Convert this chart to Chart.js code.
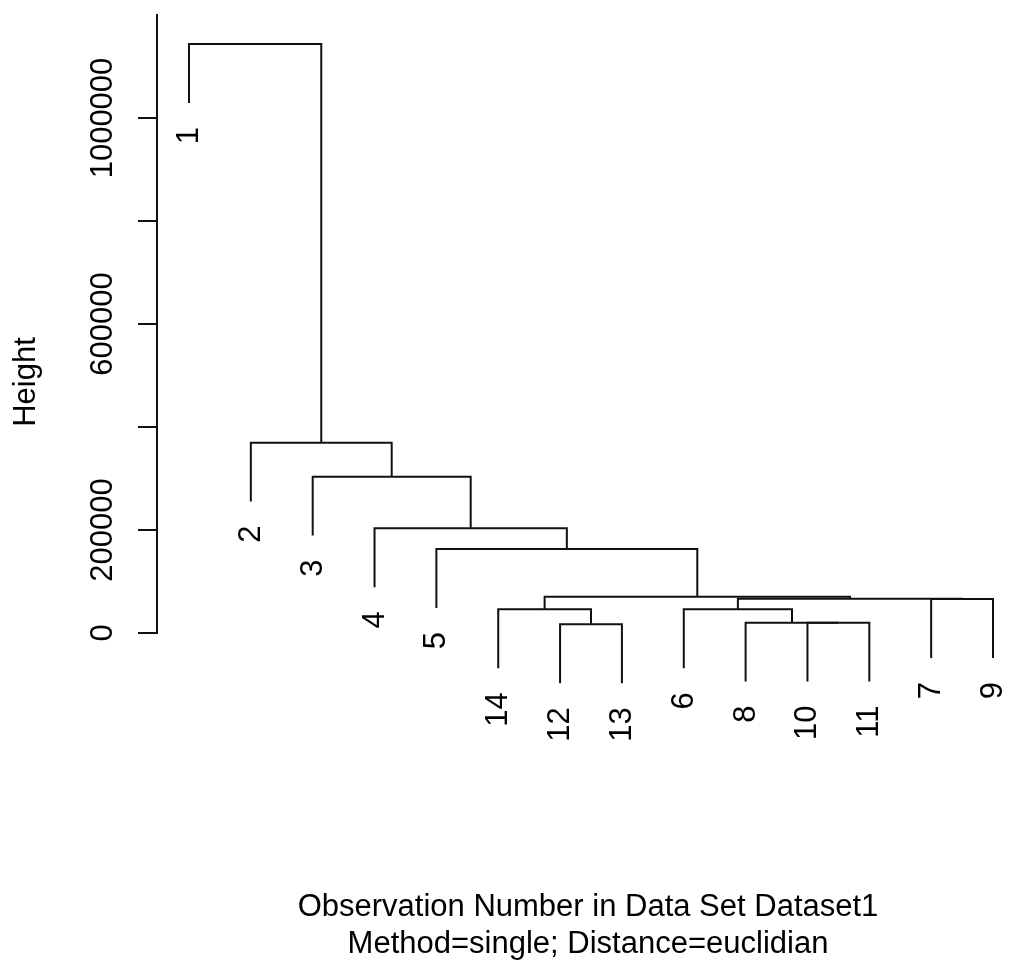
<!DOCTYPE html>
<html>
<head>
<meta charset="utf-8">
<script src="https://cdn.jsdelivr.net/npm/chart.js@4"></script>
<style>
  html, body { margin: 0; padding: 0; background: #fff; }
  #wrap { width: 1009px; height: 967px; position: relative; }
</style>
</head>
<body>
<div id="wrap"><canvas id="dendro"></canvas></div>
<script>
// leaves in the order they are drawn left to right (observation numbers)
const leafOrder = [1, 2, 3, 4, 5, 14, 12, 13, 6, 8, 10, 11, 7, 9];

// merge table, hclust style: negative = observation, positive = earlier merge (1-based)
const mergeLeft  = [-12, -10, -8, -14, -6, -7, 5, 4, -5, -4, -3, -2, -1];
const mergeRight = [-13, -11,  2,   1,  3, -9, 6, 7,  8,  9, 10, 11, 12];
const mergeHeight = [16900, 20000, 20000, 46000, 46000, 66000, 66400, 70500,
                     163000, 203300, 303500, 369500, 1143700];

const yTicks = [0, 200000, 400000, 600000, 800000, 1000000];
const yTickLabels = ['0', '200000', '', '600000', '', '1000000'];
const xTitle = ['Observation Number in Data Set Dataset1', 'Method=single; Distance=euclidian'];
const yTitle = 'Height';

const hang = 0.1 * Math.max(...mergeHeight);
const FONT = '31px "Liberation Sans", Arial, sans-serif';

// x of every merge = mean of its two children, leaf x = its slot
const nodeX = [];
const leafEnd = {};
function childX(c) { return c < 0 ? leafOrder.indexOf(-c) + 1 : nodeX[c - 1]; }
function childTop(c, h) {
  if (c < 0) {
    leafEnd[-c] = h - hang;
    return h - hang;
  }
  return mergeHeight[c - 1];
}

const datasets = mergeHeight.map(function (h, i) {
  const a = mergeLeft[i], b = mergeRight[i];
  const xa = childX(a), xb = childX(b);
  nodeX[i] = (xa + xb) / 2;
  return {
    data: [
      { x: xa, y: childTop(a, h) },
      { x: xa, y: h },
      { x: xb, y: h },
      { x: xb, y: childTop(b, h) }
    ],
    showLine: true,
    borderColor: '#111',
    borderWidth: 2,
    pointRadius: 0,
    tension: 0,
    clip: false
  };
});

// rotated labels + titles, R style
const textPlugin = {
  id: 'rText',
  afterDraw(chart) {
    const c = chart.ctx;
    const xs = chart.scales.x, ys = chart.scales.y;
    c.save();
    c.fillStyle = '#000';
    c.font = FONT;

    // leaf labels hanging under each leaf
    leafOrder.forEach(function (obs, i) {
      const px = xs.getPixelForValue(i + 1) + 9;
      const py = ys.getPixelForValue(leafEnd[obs]) + 24;
      c.save();
      c.translate(px, py);
      c.rotate(-Math.PI / 2);
      c.textAlign = 'right';
      c.textBaseline = 'alphabetic';
      c.fillText(String(obs), 0, 0);
      c.restore();
    });

    // y tick labels, parallel to the axis
    yTicks.forEach(function (v, i) {
      if (!yTickLabels[i]) return;
      c.save();
      c.translate(chart.chartArea.left - 45, ys.getPixelForValue(v));
      c.rotate(-Math.PI / 2);
      c.textAlign = 'center';
      c.textBaseline = 'alphabetic';
      c.fillText(yTickLabels[i], 0, 0);
      c.restore();
    });

    // y title
    c.save();
    c.translate(35, 382);
    c.rotate(-Math.PI / 2);
    c.textAlign = 'center';
    c.fillText(yTitle, 0, 0);
    c.restore();

    // x title, two lines
    c.textAlign = 'center';
    c.fillText(xTitle[0], 588, 916);
    c.fillText(xTitle[1], 588, 953);
    c.restore();
  }
};

new Chart(document.getElementById('dendro'), {
  type: 'scatter',
  data: { datasets: datasets },
  options: {
    responsive: true,
    maintainAspectRatio: false,
    animation: false,
    layout: { padding: { left: 138, top: 15, right: 4, bottom: 334 } },
    plugins: { legend: { display: false }, tooltip: { enabled: false } },
    scales: {
      x: { type: 'linear', display: false, min: 0.4826, max: 14.194 },
      y: {
        type: 'linear',
        min: 0,
        max: 1200000,
        afterBuildTicks: function (scale) {
          scale.ticks = yTicks.map(v => ({ value: v }));
        },
        ticks: { display: false },
        grid: { drawOnChartArea: false, drawTicks: true, tickLength: 19, color: '#111', lineWidth: 2 },
        border: { display: true, color: '#111', width: 2 }
      }
    }
  },
  plugins: [textPlugin]
});
</script>
</body>
</html>
